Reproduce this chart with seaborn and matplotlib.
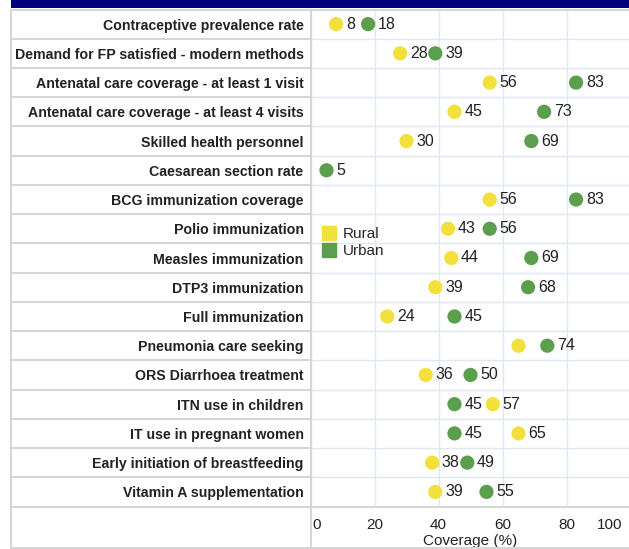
import numpy as np
import pandas as pd
import seaborn as sns
import matplotlib.pyplot as plt
from matplotlib.lines import Line2D
from matplotlib.patches import Rectangle
from matplotlib.transforms import ScaledTranslation

indicators = ['Contraceptive prevalence rate', 'Demand for FP satisfied - modern methods',
              'Antenatal care coverage - at least 1 visit', 'Antenatal care coverage - at least 4 visits',
              'Skilled health personnel', 'Caesarean section rate', 'BCG immunization coverage',
              'Polio immunization', 'Measles immunization', 'DTP3 immunization', 'Full immunization',
              'Pneumonia care seeking', 'ORS Diarrhoea treatment', 'ITN use in children',
              'IT use in pregnant women', 'Early initiation of breastfeeding', 'Vitamin A supplementation']
rural = [8, 28, 56, 45, 30, np.nan, 56, 43, 44, 39, 24, 65, 36, 57, 65, 38, 39]
urban = [18, 39, 83, 73, 69, 5, 83, 56, 69, 68, 45, 74, 50, 45, 45, 49, 55]
rural_shown = [True] * 17
rural_shown[11] = False  # no value label on pneumonia rural
x_ticks = [0, 20, 40, 60, 80, 100]

yellow = '#f2e13c'
green = '#5a9e4e'

n = len(indicators)
df = pd.DataFrame({
    'indicator': indicators * 2,
    'row': list(range(n)) * 2,
    'area': ['Rural'] * n + ['Urban'] * n,
    'coverage': rural + urban,
    'shown': rural_shown + [True] * n,
}).dropna(subset=['coverage'])

sns.set_style('white')
plt.rcParams['font.family'] = ['Liberation Sans', 'DejaVu Sans']

W, H = 629, 549
fig = plt.figure(figsize=(W / 100, H / 100), dpi=100)
px = lambda x, y: (x / W, 1 - y / H)

top, bottom, left, right = 9.5, 506.5, 310.5, 630.5
ax = fig.add_axes([left / W, 1 - bottom / H, (right - left) / W, (bottom - top) / H])

sns.scatterplot(data=df, x='coverage', y='row', hue='area', palette={'Rural': yellow, 'Urban': green},
                s=105, edgecolor='none', linewidth=0, legend=False, ax=ax, zorder=3, clip_on=False)

for _, r in df.iterrows():
    if r['shown']:
        ax.annotate(f"{r['coverage']:g}", (r['coverage'], r['row']), xytext=(7, 0),
                    textcoords='offset points', va='center', ha='left', fontsize=11.5, color='#222222')

ax.set_xlim(0, 100)
ax.set_ylim(n - 0.5, -0.5)
ax.set_xticks(x_ticks)
ax.set_yticks(range(n))
ax.set_yticklabels(indicators, fontweight='bold', fontsize=10.2, color='#222222')
ax.tick_params(axis='y', length=0, pad=5)
ax.tick_params(axis='x', length=0, pad=8, labelsize=11, labelcolor='#222222')
ax.set_xlabel('Coverage (%)', fontsize=11, labelpad=2, color='#222222')
ax.set_ylabel('')

labels = ax.get_xticklabels()
labels[0].set_ha('left')
labels[0].set_transform(labels[0].get_transform() + ScaledTranslation(2 / 100, 0, fig.dpi_scale_trans))
labels[-1].set_ha('right')
labels[-1].set_transform(labels[-1].get_transform() + ScaledTranslation(-8 / 100, 0, fig.dpi_scale_trans))

grid_blue = '#dce9f5'
grid_gray = '#d6d6d6'
ax.grid(axis='x', color=grid_blue, lw=1)
ax.grid(axis='y', visible=False)
for i in range(n - 1):
    ax.axhline(i + 0.5, color=grid_blue, lw=1, zorder=1)
    ax.axhline(i + 0.5, xmin=-(left - 11) / (right - left), xmax=0, color=grid_gray, lw=1.5, clip_on=False)

for s in ['top', 'right']:
    ax.spines[s].set_visible(False)
for s in ['left', 'bottom']:
    ax.spines[s].set_color(grid_gray)
    ax.spines[s].set_linewidth(1.5)

# table frame
fig.add_artist(Line2D([px(11, 0)[0], 1], [px(0, 9.5)[1]] * 2, color=grid_gray, lw=1.5))
fig.add_artist(Line2D([px(11, 0)[0], px(left, 0)[0]], [px(0, bottom)[1]] * 2, color=grid_gray, lw=1.5))
fig.add_artist(Line2D([px(11, 0)[0]] * 2, [px(0, 9.5)[1], px(0, 548)[1]], color=grid_gray, lw=1.5))
fig.add_artist(Line2D([px(left, 0)[0]] * 2, [px(0, bottom)[1], px(0, 548)[1]], color=grid_gray, lw=1.5))
fig.add_artist(Line2D([px(11, 0)[0], 1], [px(0, 547.5)[1]] * 2, color=grid_gray, lw=1.5))
fig.add_artist(Rectangle(px(11, 7.5), 1, 7.5 / H, color='#000080', lw=0))

handles = [Line2D([], [], marker='s', ls='', color=c, markersize=10.5) for c in [yellow, green]]
ax.legend(handles, ['Rural', 'Urban'], loc='upper left', bbox_to_anchor=(0.015, 0.578), frameon=False,
          fontsize=11, handlelength=0.8, handletextpad=0.5, labelspacing=0.2, borderpad=0)

fig.savefig('out.png', dpi=100)
